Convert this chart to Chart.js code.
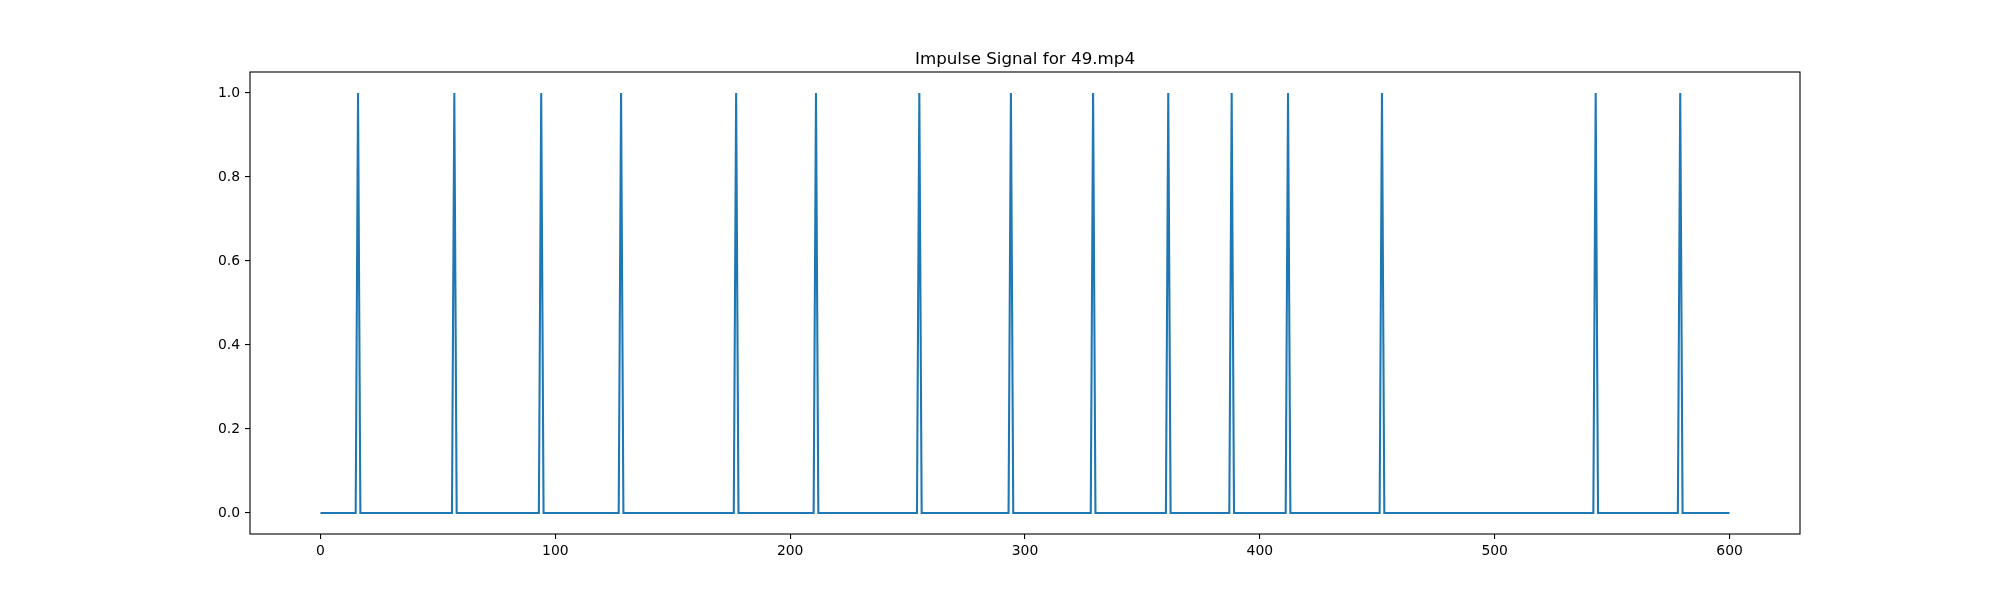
<!DOCTYPE html>
<html>
<head>
<meta charset="utf-8">
<script src="https://cdn.jsdelivr.net/npm/chart.js@4/dist/chart.umd.min.js"></script>
<style>
  html, body { margin: 0; padding: 0; background: #ffffff; }
  #wrap { width: 2000px; height: 600px; }
</style>
</head>
<body>
<div id="wrap"><canvas id="c" width="2000" height="600"></canvas></div>
<script>
// ---- data ----
const chartTitle = "Impulse Signal for 49.mp4";
const frameCount = 601;                 // frames 0 .. 600
const impulseFrames = [16, 57, 94, 128, 177, 211, 255, 294, 329, 361, 388, 412, 452, 543, 579];
const xTickValues = [0, 100, 200, 300, 400, 500, 600];
const yTickValues = [0.0, 0.2, 0.4, 0.6, 0.8, 1.0];

// signal: 0 everywhere, 1 at each impulse frame
const signal = new Array(frameCount).fill(0);
impulseFrames.forEach(f => { signal[f] = 1; });
const points = signal.map((v, i) => ({ x: i, y: v }));

const FONT = "'DejaVu Sans', sans-serif";

const framePlugin = {
  id: 'frameAndTitle',
  afterDraw(chart) {
    const { ctx, chartArea: a } = chart;
    ctx.save();
    ctx.strokeStyle = '#000000';
    ctx.lineWidth = 1.1;
    ctx.strokeRect(a.left, a.top, a.right - a.left, a.bottom - a.top);
    ctx.fillStyle = '#000000';
    ctx.font = "16.7px " + FONT;
    ctx.textAlign = 'center';
    ctx.textBaseline = 'alphabetic';
    ctx.fillText(chartTitle, (a.left + a.right) / 2, a.top - 8.3);
    ctx.restore();
  }
};

new Chart(document.getElementById('c'), {
  type: 'line',
  data: {
    datasets: [{
      data: points,
      borderColor: '#1f77b4',
      borderWidth: 2.08,
      pointRadius: 0,
      tension: 0,
      fill: false
    }]
  },
  options: {
    responsive: false,
    animation: false,
    parsing: false,
    layout: { padding: { left: 0, right: 200, top: 72, bottom: 0 } },
    plugins: {
      legend: { display: false },
      title: { display: false },
      tooltip: { enabled: false }
    },
    scales: {
      x: {
        type: 'linear',
        min: -30,
        max: 630,
        border: { display: false },
        grid: { display: true, drawOnChartArea: false, drawTicks: true, tickLength: 5, color: '#000000', lineWidth: 1.1 },
        ticks: {
          color: '#000000',
          font: { family: FONT, size: 13.9 },
          padding: 4,
          maxRotation: 0,
          autoSkip: false,
          callback: v => String(v)
        },
        afterBuildTicks: s => { s.ticks = xTickValues.map(v => ({ value: v })); },
        afterFit: s => { s.height = 66; }
      },
      y: {
        type: 'linear',
        min: -0.05,
        max: 1.05,
        border: { display: false },
        grid: { display: true, drawOnChartArea: false, drawTicks: true, tickLength: 5, color: '#000000', lineWidth: 1.1 },
        ticks: {
          color: '#000000',
          font: { family: FONT, size: 13.9 },
          padding: 5,
          autoSkip: false,
          callback: v => Number(v).toFixed(1)
        },
        afterBuildTicks: s => { s.ticks = yTickValues.map(v => ({ value: v })); },
        afterFit: s => { s.width = 250; }
      }
    }
  },
  plugins: [framePlugin]
});
</script>
</body>
</html>
